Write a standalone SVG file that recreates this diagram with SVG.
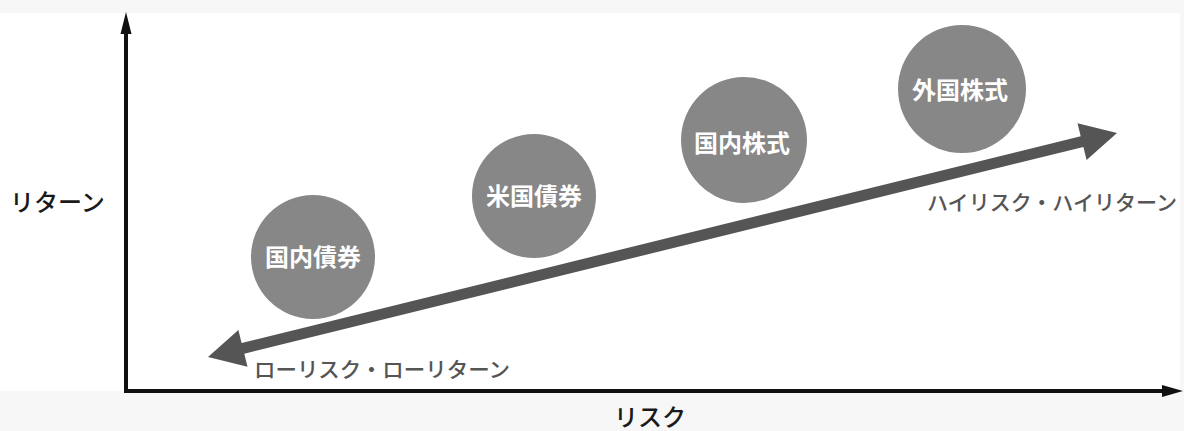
<svg xmlns="http://www.w3.org/2000/svg" width="1184" height="431" viewBox="0 0 1184 431">
  <style>
    .bubble { fill: #878787; }
    .btext { font-family: "Noto Sans CJK JP", "Noto Sans", sans-serif; font-size: 24px; font-weight: 700; fill: #ffffff; text-anchor: middle; dominant-baseline: central; }
    .lbl { font-family: "Noto Sans CJK JP", "Noto Sans", sans-serif; font-size: 21px; font-weight: 500; fill: #555555; }
    .axislbl { font-family: "Noto Sans CJK JP", "Noto Sans", sans-serif; font-size: 24px; font-weight: 500; fill: #1a1a1a; }
    .axis { stroke: #111111; stroke-width: 4; fill: none; }
    .axishead { fill: #111111; }
  </style>
  <rect x="0" y="0" width="1184" height="431" fill="#f7f7f7"/>
  <rect x="0" y="13" width="1180" height="378" fill="#ffffff"/>

  <g id="connectors">
    <line class="axis" x1="126" y1="393" x2="126" y2="30"/>
    <polygon class="axishead" points="126,12 120.5,34 131.5,34"/>
    <line class="axis" x1="124" y1="391" x2="1166" y2="391"/>
    <polygon class="axishead" points="1183,391 1162,385 1162,397"/>
    <polygon id="risk-return-arrow" fill="#555555" points="208,357 247.5,366.8 244.3,353.7 1083.4,147 1086.6,160.1 1117,133 1077.5,123.2 1080.7,136.3 241.6,343 238.4,329.9"/>
  </g>

  <g id="node-kokunai-saiken">
    <circle class="bubble" cx="313" cy="257" r="62"/>
    <text class="btext" x="313" y="255">国内債券</text>
  </g>
  <g id="node-beikoku-saiken">
    <circle class="bubble" cx="534" cy="196" r="62"/>
    <text class="btext" x="534" y="194">米国債券</text>
  </g>
  <g id="node-kokunai-kabu">
    <circle class="bubble" cx="744" cy="140" r="63"/>
    <text class="btext" x="742" y="141">国内株式</text>
  </g>
  <g id="node-gaikoku-kabu">
    <circle class="bubble" cx="962" cy="89" r="64"/>
    <text class="btext" x="960" y="88">外国株式</text>
  </g>

  <g id="label-low">
    <text class="lbl" x="254" y="377" textLength="256" lengthAdjust="spacingAndGlyphs">ローリスク・ローリターン</text>
  </g>
  <g id="label-high">
    <text class="lbl" x="927" y="210" textLength="250" lengthAdjust="spacingAndGlyphs">ハイリスク・ハイリターン</text>
  </g>
  <g id="label-yaxis">
    <text class="axislbl" x="10" y="211">リターン</text>
  </g>
  <g id="label-xaxis">
    <text class="axislbl" x="614" y="426">リスク</text>
  </g>
</svg>
